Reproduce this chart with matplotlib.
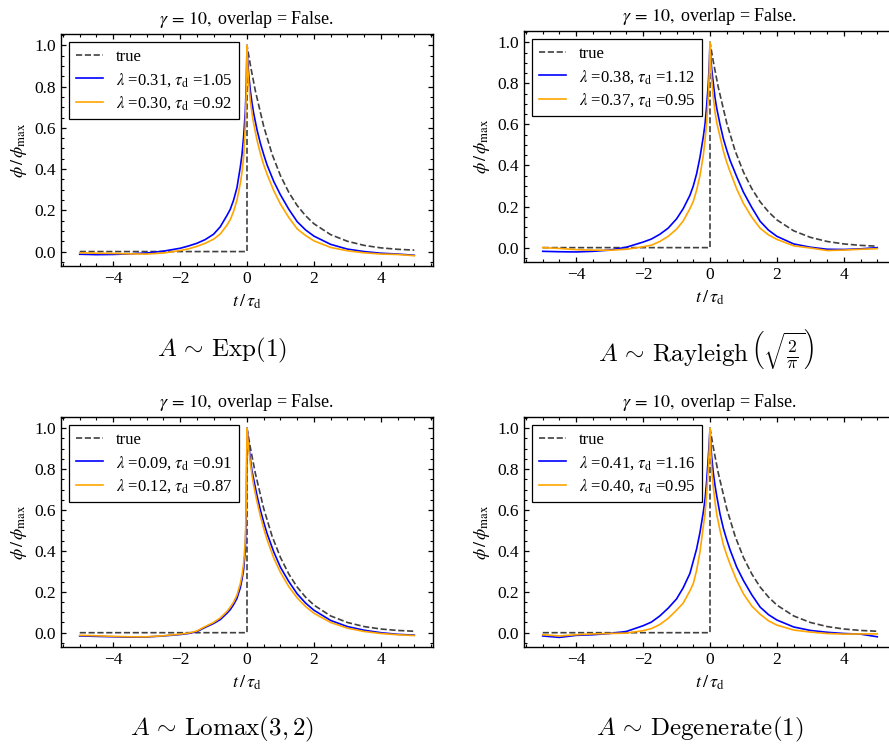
import numpy as np
import matplotlib
matplotlib.use("Agg")
import matplotlib.pyplot as plt
from matplotlib.ticker import MultipleLocator, AutoMinorLocator

plt.rcParams['font.family'] = ['Liberation Serif', 'DejaVu Serif']
plt.rcParams['mathtext.fontset'] = 'stix'
plt.rcParams['axes.linewidth'] = 1.0
plt.rcParams['xtick.direction'] = 'in'
plt.rcParams['ytick.direction'] = 'in'
plt.rcParams['xtick.top'] = True
plt.rcParams['ytick.right'] = True
plt.rcParams['xtick.major.size'] = 3.5
plt.rcParams['ytick.major.size'] = 3.5
plt.rcParams['xtick.minor.size'] = 2
plt.rcParams['ytick.minor.size'] = 2
plt.rcParams['xtick.major.width'] = 0.9
plt.rcParams['ytick.major.width'] = 0.9
plt.rcParams['xtick.minor.width'] = 0.8
plt.rcParams['ytick.minor.width'] = 0.8

# time grid of the estimated pulse shapes
t = [-5.0, -4.5, -4.0, -3.5, -3.0, -2.5, -2.0, -1.75, -1.5, -1.25, -1.0,
     -0.8, -0.6, -0.5, -0.4, -0.3, -0.2, -0.15, -0.1, -0.05, -0.02,
     0.0,
     0.02, 0.05, 0.1, 0.15, 0.2, 0.3, 0.4, 0.5, 0.6, 0.8, 1.0,
     1.25, 1.5, 1.75, 2.0, 2.5, 3.0, 3.5, 4.0, 4.5, 5.0]

# true one-sided exponential pulse
t_true = [-5.0, 0.0, 0.0, 0.1, 0.25, 0.5, 0.75, 1.0, 1.25, 1.5, 1.75, 2.0,
          2.5, 3.0, 3.5, 4.0, 4.5, 5.0]
phi_true = [0.0, 0.0, 1.0, 0.905, 0.779, 0.607, 0.472, 0.368, 0.287, 0.223,
            0.174, 0.135, 0.082, 0.050, 0.030, 0.018, 0.011, 0.007]

# A ~ Exp(1)
exp_blue = [-0.013, -0.015, -0.014, -0.011, -0.007, 0.002, 0.016, 0.027, 0.04, 0.058, 0.084,
            0.12, 0.175, 0.205, 0.25, 0.31, 0.41, 0.47, 0.56, 0.68, 0.82,
            1.0,
            0.93, 0.86, 0.78, 0.72, 0.67, 0.59, 0.525, 0.47, 0.42, 0.34, 0.275,
            0.205, 0.145, 0.105, 0.075, 0.035, 0.012, 0.0, -0.008, -0.012, -0.018]
exp_orange = [-0.006, -0.008, -0.009, -0.011, -0.012, -0.007, 0.005, 0.013, 0.025, 0.04, 0.06,
              0.085, 0.128, 0.155, 0.195, 0.25, 0.33, 0.385, 0.46, 0.61, 0.78,
              1.0,
              0.9, 0.82, 0.73, 0.67, 0.62, 0.54, 0.475, 0.42, 0.375, 0.295, 0.23,
              0.165, 0.11, 0.078, 0.052, 0.02, 0.004, -0.006, -0.012, -0.014, -0.02]

# A ~ Rayleigh
ray_blue = [-0.018, -0.02, -0.021, -0.018, -0.012, 0.002, 0.027, 0.042, 0.065, 0.095, 0.14,
            0.19, 0.255, 0.3, 0.36, 0.44, 0.54, 0.6, 0.69, 0.8, 0.9,
            1.0,
            0.93, 0.87, 0.8, 0.73, 0.68, 0.6, 0.53, 0.475, 0.425, 0.345, 0.27,
            0.195, 0.128, 0.085, 0.055, 0.018, 0.002, -0.008, -0.009, -0.006, 0.0]
ray_orange = [0.0, -0.004, -0.01, -0.012, -0.013, -0.008, 0.004, 0.012, 0.03, 0.055, 0.09,
              0.13, 0.19, 0.225, 0.28, 0.35, 0.45, 0.52, 0.61, 0.74, 0.86,
              1.0,
              0.9, 0.82, 0.73, 0.66, 0.61, 0.54, 0.47, 0.415, 0.37, 0.285, 0.215,
              0.148, 0.094, 0.062, 0.04, 0.009, -0.002, -0.014, -0.012, -0.008, -0.005]

# A ~ Lomax(3, 2)
lom_blue = [-0.016, -0.018, -0.02, -0.022, -0.021, -0.016, -0.009, -0.004, 0.005, 0.026, 0.045,
            0.064, 0.095, 0.113, 0.138, 0.168, 0.22, 0.26, 0.31, 0.41, 0.6,
            1.0,
            0.97, 0.92, 0.85, 0.79, 0.75, 0.67, 0.6, 0.54, 0.485, 0.395, 0.32,
            0.25, 0.19, 0.145, 0.11, 0.06, 0.03, 0.012, 0.0, -0.008, -0.012]
lom_orange = [-0.013, -0.015, -0.018, -0.02, -0.02, -0.015, -0.007, -0.002, 0.008, 0.03, 0.05,
              0.072, 0.104, 0.125, 0.15, 0.184, 0.24, 0.28, 0.34, 0.45, 0.63,
              1.0,
              0.96, 0.9, 0.83, 0.77, 0.72, 0.64, 0.57, 0.51, 0.455, 0.365, 0.295,
              0.225, 0.17, 0.128, 0.095, 0.05, 0.022, 0.006, -0.004, -0.01, -0.014]

# A ~ Degenerate(1)
deg_blue = [-0.016, -0.023, -0.013, -0.01, -0.004, 0.006, 0.034, 0.052, 0.082, 0.12, 0.165,
            0.22, 0.29, 0.35, 0.41, 0.49, 0.59, 0.65, 0.74, 0.86, 0.94,
            1.0,
            0.93, 0.86, 0.78, 0.72, 0.67, 0.58, 0.51, 0.455, 0.405, 0.32, 0.255,
            0.185, 0.125, 0.088, 0.062, 0.028, 0.011, 0.002, -0.004, -0.007, -0.02]
deg_orange = [-0.01, -0.016, -0.01, -0.006, -0.004, -0.002, 0.01, 0.02, 0.04, 0.07, 0.11,
              0.145, 0.205, 0.24, 0.305, 0.395, 0.52, 0.58, 0.68, 0.8, 0.9,
              1.0,
              0.89, 0.8, 0.71, 0.64, 0.58, 0.5, 0.43, 0.38, 0.335, 0.255, 0.19,
              0.13, 0.09, 0.058, 0.037, 0.013, 0.003, -0.004, -0.007, -0.006, -0.006]

lam_blue = [0.31, 0.38, 0.09, 0.41]
tau_blue = [1.05, 1.12, 0.91, 1.16]
lam_orange = [0.30, 0.37, 0.12, 0.40]
tau_orange = [0.92, 0.95, 0.87, 0.95]

captions = [r'$A\,\sim\,\mathrm{Exp}(1)$',
            r'$A\,\sim\,\mathrm{Rayleigh}\,\left(\sqrt{\frac{2}{\pi}}\right)$',
            r'$A\,\sim\,\mathrm{Lomax}(3,2)$',
            r'$A\,\sim\,\mathrm{Degenerate}(1)$']

blues = [exp_blue, ray_blue, lom_blue, deg_blue]
oranges = [exp_orange, ray_orange, lom_orange, deg_orange]

W, H = 889, 746
fig = plt.figure(figsize=(W / 100, H / 100), dpi=100)

# axes boxes in pixels: left, top, right, bottom
boxes = [(61, 34, 433, 266), (524, 31, 896, 262),
         (61, 417, 433, 647), (524, 417, 896, 647)]
cap_pos = [(222, 350), (706, 349), (222, 729), (700, 729)]

for i in range(4):
    l, tp, r, b = boxes[i]
    ax = fig.add_axes([l / W, 1 - b / H, (r - l) / W, (b - tp) / H])
    ax.plot(t_true, phi_true, '--', color='#404040', lw=1.2, label='true')
    ax.plot(t, blues[i], color='blue', lw=1.2,
            label=r'$\lambda$ =%.2f, $\tau_\mathrm{d}$ =%.2f' % (lam_blue[i], tau_blue[i]))
    ax.plot(t, oranges[i], color='orange', lw=1.2,
            label=r'$\lambda$ =%.2f, $\tau_\mathrm{d}$ =%.2f' % (lam_orange[i], tau_orange[i]))
    ax.set_xlim(-5.56, 5.56)
    ax.set_ylim(-0.07, 1.055)
    ax.xaxis.set_major_locator(MultipleLocator(2))
    ax.xaxis.set_minor_locator(AutoMinorLocator(4))
    ax.yaxis.set_major_locator(MultipleLocator(0.2))
    ax.yaxis.set_minor_locator(AutoMinorLocator(4))
    ax.tick_params(labelsize=12.5)
    ax.set_xlabel(r'$t\,/\,\tau_\mathrm{d}$', fontsize=13)
    ax.set_ylabel(r'$\phi\,/\,\phi_\mathrm{max}$', fontsize=13)
    ax.set_title(r'$\gamma\,=\,10,$ overlap = False.', fontsize=13, pad=7)
    leg = ax.legend(loc='upper left', fontsize=12, fancybox=False,
                    edgecolor='black', framealpha=1, borderaxespad=0.5,
                    handlelength=1.6, handletextpad=0.8, labelspacing=0.35)
    leg.get_frame().set_linewidth(0.9)
    cx, cy = cap_pos[i]
    fig.text(cx / W, 1 - cy / H, captions[i], ha='center', va='center',
             fontsize=18, math_fontfamily='cm')

fig.savefig('out.png', dpi=100)
